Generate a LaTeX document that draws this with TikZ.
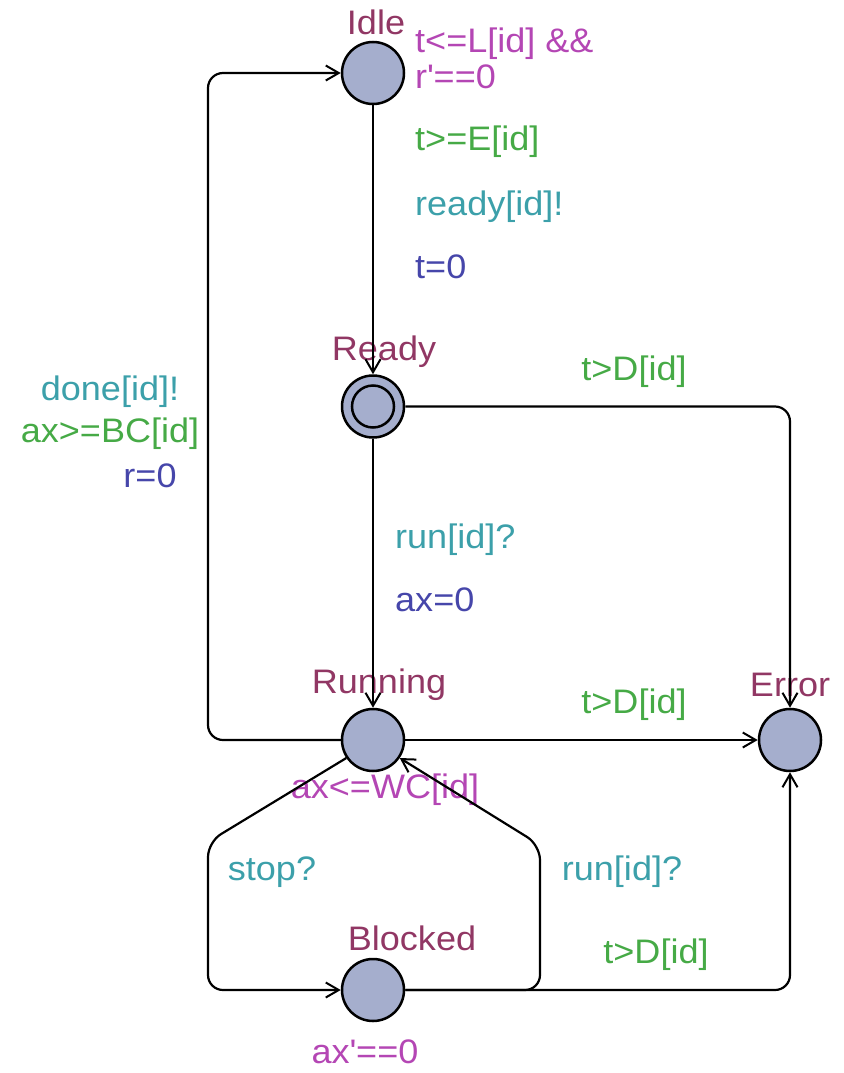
\documentclass[tikz,border=0pt]{standalone}
\usepackage{fontspec}
\setmainfont{Liberation Sans}
\newfontfamily\lblfont[FakeStretch=1.06]{Liberation Sans}
\usetikzlibrary{positioning}
\usetikzlibrary{arrows.meta}

\definecolor{locfill}{RGB}{165,174,205}
\definecolor{namecol}{RGB}{145,55,100}
\definecolor{invcol}{RGB}{180,70,180}
\definecolor{guardcol}{RGB}{70,170,70}
\definecolor{synccol}{RGB}{60,160,170}
\definecolor{updcol}{RGB}{70,70,170}

\begin{document}
\begin{tikzpicture}
[
x=1pt, y=1pt,
node distance = 269pt,
loc/.style={circle, draw=black, line width=2.5pt, fill=locfill, minimum size=62pt, inner sep=0pt},
edge/.style={line width=2.2pt, rounded corners=15pt, -{Straight Barb[length=13pt,width=15pt,line width=2pt]}},
lbl/.style={font=\lblfont\fontsize{34}{36}\selectfont, inner sep=0pt},
locname/.style={lbl, text=namecol},
inv/.style={lbl, text=invcol},
grd/.style={lbl, text=guardcol},
syn/.style={lbl, text=synccol},
upd/.style={lbl, text=updcol}
]
\useasboundingbox (0,0) rectangle (843,-1073);

% locations
\node[loc] (idle) at (373,-73) {};
\node[loc] (rdy) [below=of idle] {};
\node[loc] (run) [below=of rdy] {};
\node[loc] (err) [right=352.5pt of run] {};
\node[loc] (blk) [below=185.5pt of run] {};
\draw[line width=2.5pt] (rdy.center) circle (21pt);

% location names
\node[locname] (idlename) at (376,-22) {Idle};
\node[locname] (rdyname) at (384,-352) {Ready};
\node[locname] (runname) at (379,-685) {Running};
\node[locname] (errname) at (790,-685) {Error};
\node[locname] (blkname) at (412,-938) {Blocked};

% invariants
\node[inv, anchor=west, align=left] (idleinv) at (415,-58) {t<=L[id] \&\&\\r\textquotesingle==0};
\node[inv] (runinv) at (385,-790) {ax<=WC[id]};
\node[inv] (blkinv) at (365,-1052) {ax\textquotesingle==0};

% edges
\draw[edge] (idle) -- (rdy);
\draw[edge] (rdy) -- (run);
\draw[edge] (run) -- (err);
\draw[edge] (rdy.east) -| (err.north);
\draw[edge] (blk.east) -| (err.south);
\draw[edge] (run.west) -| (208,-73) -- (idle.west);
\draw[edge] (run.214) -- (208,-842) -- (208,-990) -- (blk.west);
\draw[edge] (blk.east) -- (540,-990) -- (540,-845) -- (run.-34);

% Idle -> Ready
\node[grd, anchor=west] (g1) at (415,-142) {t>=E[id]};
\node[syn, anchor=west] (s1) at (415,-207) {ready[id]!};
\node[upd, anchor=west] (u1) at (415,-267) {t=0};

% Ready -> Error
\node[grd] (g2) at (634,-372) {t>D[id]};

% Running -> Idle
\node[syn] (s2) at (110,-392) {done[id]!};
\node[grd] (g3) at (110,-434) {ax>=BC[id]};
\node[upd] (u2) at (150,-476) {r=0};

% Ready -> Running
\node[syn, anchor=west] (s3) at (395,-540) {run[id]?};
\node[upd, anchor=west] (u3) at (395,-600) {ax=0};

% Running -> Error
\node[grd] (g4) at (634,-705) {t>D[id]};

% Running <-> Blocked
\node[syn] (s4) at (272,-872) {stop?};
\node[syn] (s5) at (622,-872) {run[id]?};

% Blocked -> Error
\node[grd] (g5) at (656,-955) {t>D[id]};
\end{tikzpicture}
\end{document}
